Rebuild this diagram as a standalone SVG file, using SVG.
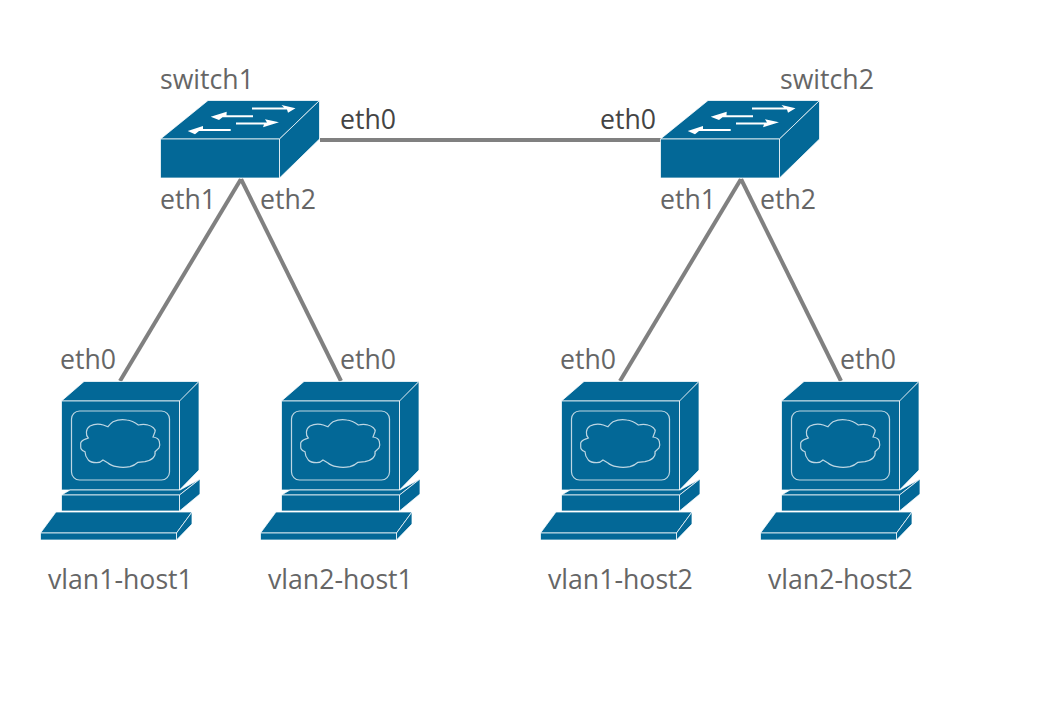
<svg xmlns="http://www.w3.org/2000/svg" xmlns:xlink="http://www.w3.org/1999/xlink" width="1040" height="711" viewBox="0 0 1040 711">
<style>
.f{fill:#036897;stroke:#fff;stroke-width:1;stroke-opacity:.75;stroke-linejoin:round}
.l{fill:none;stroke:#dfeaf0;stroke-width:1.200;stroke-opacity:.85}
.w{fill:#fff;stroke:none}
.c{fill:none;stroke:#808080;stroke-width:4}
text{font-family:"Open Sans","Noto Sans",sans-serif;font-size:26.670px;fill:#666}
.d{fill:#444}
</style>
<defs>
<g id="sw">
<path class="f" d="M160.500 139L208 100.500H319.500L279.500 139Z"/>
<path class="f" d="M279.500 139L319.500 100.500V139L279.500 178Z"/>
<rect class="f" x="160.500" y="139" width="119" height="39"/>
<path class="w" d="M252 107.500H284L281.500 105L295.500 108.300L288 112.700L287 109.500H252Z"/>
<path class="w" d="M253 115.200H226.500L226.700 111.700L210.700 116.700L219 120L222.500 117.200H253Z"/>
<path class="w" d="M236 122.500H267L265 119.300L279 122.300L263 127.300L264 124.500H236Z"/>
<path class="w" d="M230.700 129H203L203 126L187.700 131L195 134.300L199 131H230.700Z"/>
</g>
<g id="host">
<path class="f" d="M61.500 401L84 381.500H199L180 401Z"/>
<path class="f" d="M179.500 401L199 381.500V470L179.500 490Z"/>
<rect class="f" x="61.500" y="401" width="118" height="89"/>
<rect class="l" x="71.500" y="411" width="98" height="69" rx="8"/>
<path class="l" d="M80.700 443C81.500 440 85 439.500 88.300 438C85.500 435 85.500 429 90 426C94 424 100 424 103.300 425L108 426.700C110 424 111 423 113 421.700C118 419.500 124 419.500 126.700 420C132 420.500 135 422.500 138.300 425C142 424 145 424 148 425C152 426 156 429 155 431.700L153 437C156 437.500 159 439 159.300 441.700C160 444 160 446 159 448L155 451.700C155.500 454 155 456 153 458C151 460 148 461 145 461.700L138 462.300C135 465 133 466 130 466.700C126 467.500 120 467.500 116.700 466.700C113 466 110 465 108 463L103 460C101 462 99 462.700 96.700 462.700C93 462.700 90 462 88.300 460C86 457 85 454 85 451.700C82 450.500 80.500 448.500 80.700 446.700Z"/>
<path class="f" d="M61.500 495L70 490H180L200 479L179.500 495Z"/>
<path class="f" d="M179.500 495L200 479V494L179.500 511Z"/>
<rect class="f" x="61.500" y="495" width="118" height="16"/>
<path class="f" d="M40.500 533L56 512H192L176.500 533Z"/>
<path class="f" d="M176.500 533L192 512V524L176.500 540Z"/>
<rect class="f" x="40.500" y="533" width="136" height="7"/>
</g>
</defs>
<g id="connectors">
<path class="c" d="M320 140H661"/>
<path class="c" d="M241 179L120 381"/>
<path class="c" d="M241 179L341 381"/>
<path class="c" d="M741 179L620 381"/>
<path class="c" d="M741 179L841 381"/>
</g>
<g id="switch1"><use href="#sw"/><text x="160" y="89">switch1</text></g>
<g id="switch2"><use href="#sw" x="500"/><text x="780" y="89">switch2</text></g>
<g id="vlan1-host1"><use href="#host"/><text x="48" y="589">vlan1-host1</text></g>
<g id="vlan2-host1"><use href="#host" x="220"/><text x="268" y="589">vlan2-host1</text></g>
<g id="vlan1-host2"><use href="#host" x="500"/><text x="548" y="589">vlan1-host2</text></g>
<g id="vlan2-host2"><use href="#host" x="720"/><text x="768" y="589">vlan2-host2</text></g>
<g id="port-labels">
<text class="d" x="340" y="129">eth0</text>
<text class="d" x="600" y="129">eth0</text>
<text x="160" y="209">eth1</text>
<text x="260" y="209">eth2</text>
<text x="660" y="209">eth1</text>
<text x="760" y="209">eth2</text>
<text x="60" y="369">eth0</text>
<text x="340" y="369">eth0</text>
<text x="560" y="369">eth0</text>
<text x="840" y="369">eth0</text>
</g>
</svg>
